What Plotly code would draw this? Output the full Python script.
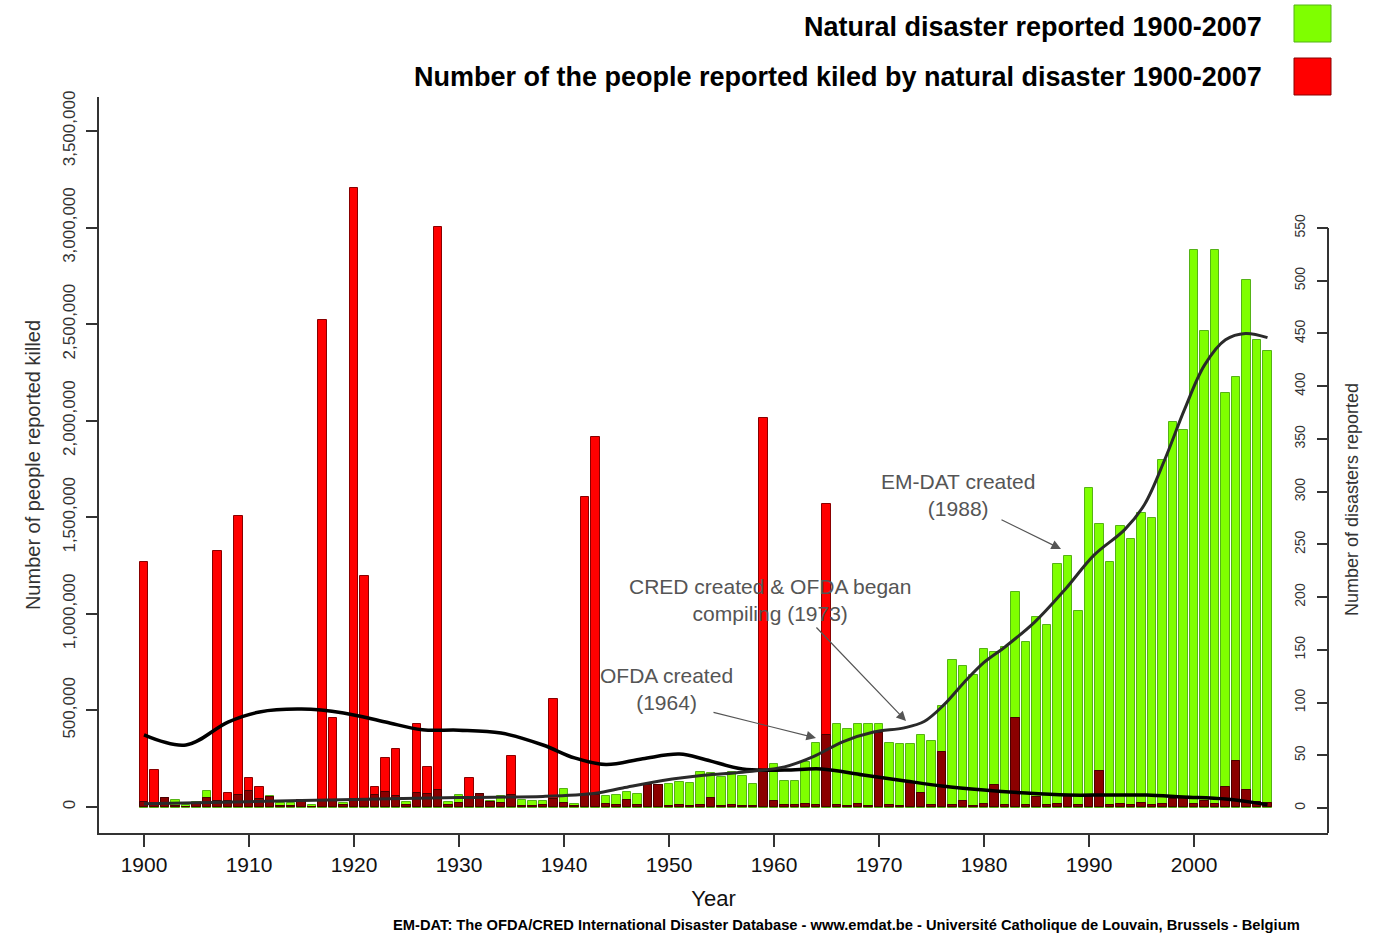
import plotly.graph_objects as go

# ---------------- data ----------------
years = list(range(1900, 2008))

disasters = [
    5, 4, 9, 8, 3, 6, 16, 6, 6, 11,
    15, 8, 11, 5, 5, 8, 3, 6, 6, 5,
    8, 8, 11, 14, 10, 6, 13, 12, 16, 6,
    12, 9, 12, 7, 11, 11, 8, 7, 7, 8,
    18, 4, 11, 11, 11, 12, 15, 13, 22, 22,
    23, 25, 24, 34, 33, 29, 34, 30, 23, 35,
    42, 26, 26, 44, 62, 68, 80, 75, 80, 80,
    80, 62, 61, 61, 69, 64, 97, 140, 135, 126,
    151, 148, 153, 205, 157, 181, 174, 231, 239, 187,
    303, 269, 233, 267, 255, 280, 275, 330, 366, 358,
    529, 452, 529, 394, 409, 501, 444, 433,
]

killed = [
    1267000, 191000, 45000, 5000, 2000, 22000, 45000, 1325000, 72000, 1506000,
    150000, 104000, 50000, 3000, 3000, 35000, 2000, 2520000, 460000, 8000,
    3204000, 1196000, 104000, 254000, 300000, 10000, 430000, 207000, 3002000, 10000,
    20000, 150000, 67000, 25000, 20000, 264000, 5000, 5000, 10000, 559000,
    20000, 5000, 1604000, 1915000, 15000, 10000, 35000, 10000, 112000, 112000,
    5000, 10000, 5000, 8000, 45000, 5000, 8000, 5000, 5000, 2013000,
    32000, 8000, 10000, 15000, 8000, 1568000, 10000, 5000, 15000, 5000,
    385000, 8000, 5000, 130000, 72000, 8000, 285000, 12000, 30000, 5000,
    15000, 112000, 8000, 460000, 10000, 52000, 8000, 15000, 62000, 10000,
    52000, 185000, 10000, 15000, 10000, 20000, 10000, 15000, 40000, 45000,
    15000, 30000, 15000, 106000, 240000, 88000, 25000, 20000,
]

# smoothed trend curves
trend_killed_years = [1900, 1904, 1908, 1911, 1915, 1919, 1923, 1926.5, 1930, 1934,
                      1938, 1941, 1944, 1947.5, 1951, 1953.5, 1957, 1961, 1964.5,
                      1968.5, 1972.5, 1976, 1980, 1984, 1988, 1991.5, 1995.5, 1999,
                      2003, 2007]
trend_killed = [373000, 321000, 440000, 492000, 507000, 487000, 440000, 400000, 398000, 383000,
                321000, 254000, 220000, 250000, 274000, 245000, 197000, 191000, 197000,
                166000, 135000, 109000, 88000, 72000, 62000, 62000, 62000, 52000,
                41000, 12000]

trend_dis_years = [1900, 1910, 1920, 1930, 1938, 1943, 1945.6, 1949.4, 1953.3, 1957,
                   1961, 1963.8, 1966.6, 1969.5, 1972.4, 1974.3, 1976.2, 1978.1, 1980,
                   1981.9, 1984.8, 1987.7, 1990.5, 1993.4, 1995.3, 1997.2, 1999.1,
                   2001, 2003, 2004.9, 2007]
trend_dis = [4, 6, 8, 10, 11, 14, 19, 26, 31, 34,
             39, 49, 63, 72, 76, 82, 98, 119, 138,
             152, 176, 207, 240, 264, 288, 330, 378,
             420, 444, 450, 446]

x_ticks = list(range(1900, 2001, 10))
left_ticks = list(range(0, 3500001, 500000))
right_ticks = list(range(0, 551, 50))

legend_green = "Natural disaster reported 1900-2007"
legend_red = "Number of the people reported kiled by natural disaster 1900-2007"
footer = ("EM-DAT: The OFDA/CRED International Disaster Database - www.emdat.be - "
          "Université Catholique de Louvain, Brussels - Belgium")

# ---------------- layout geometry (pixels) ----------------
W, H = 1379, 933
PL, PR, PT, PB = 99, 1328, 97, 833          # plot area
X0PX, XSTEP = 144, 10.5                      # pixel of 1900, pixels per year
K0PX, K_S = 807, 676 / 3500000               # killed axis: zero pixel, px per person
D0PX, D_S = 808, 580 / 550                   # disasters axis: zero pixel, px per disaster

x_range = [1900 - (X0PX - PL) / XSTEP, 1900 + (PR - X0PX) / XSTEP]
k_range = [-(PB - K0PX) / K_S, (K0PX - PT) / K_S]
d_range = [-(PB - D0PX) / D_S, (D0PX - PT) / D_S]


def xd(px):
    return 1900 + (px - X0PX) / XSTEP


def yd(py):
    return (D0PX - py) / D_S


def xp(px):
    return (px - PL) / (PR - PL)


def yp(py):
    return (PB - py) / (PB - PT)


# part of each red bar hidden behind a green bar (rendered dark red)
overlap = [min(k, d * D_S / K_S) for k, d in zip(killed, disasters)]

REG = "Liberation Sans, Arial, sans-serif"
BAR_W = 0.83

fig = go.Figure()
fig.add_trace(go.Bar(x=years, y=disasters, yaxis="y", width=BAR_W,
                     marker=dict(color="#7FFF00", line=dict(color="#55B316", width=1)),
                     name=legend_green, showlegend=False))
fig.add_trace(go.Bar(x=years, y=killed, yaxis="y2", width=BAR_W,
                     marker=dict(color="#FF0000", line=dict(color="#8A0000", width=1)),
                     name=legend_red, showlegend=False))
fig.add_trace(go.Bar(x=years, y=overlap, yaxis="y2", width=BAR_W,
                     marker=dict(color="#8B0000", line=dict(color="#4A0000", width=1)),
                     name="overlap", showlegend=False, hoverinfo="skip"))
fig.add_trace(go.Scatter(x=trend_killed_years, y=trend_killed, yaxis="y2", mode="lines",
                         line=dict(color="#000000", width=3.5, shape="spline", smoothing=1.0),
                         showlegend=False, name="killed trend"))
fig.add_trace(go.Scatter(x=trend_dis_years, y=trend_dis, yaxis="y3", mode="lines",
                         line=dict(color="#2A2A2A", width=3, shape="spline", smoothing=1.0),
                         showlegend=False, name="disasters trend"))

axis_col = "#333333"

annotations = [
    dict(text=f"<b>{legend_green}</b>", xref="paper", yref="paper", x=xp(1264), y=yp(27),
         xanchor="right", yanchor="middle", showarrow=False,
         font=dict(family=REG, size=27, color="#000")),
    dict(text=f"<b>{legend_red}</b>", xref="paper", yref="paper", x=xp(1264), y=yp(77),
         xanchor="right", yanchor="middle", showarrow=False,
         font=dict(family=REG, size=27, color="#000")),
    dict(text=f"<b>{footer}</b>", xref="paper", yref="paper", x=xp(846), y=yp(925),
         xanchor="center", yanchor="middle", showarrow=False,
         font=dict(family=REG, size=14.7, color="#000")),
    dict(text="Number of disasters reported", xref="paper", yref="paper", x=xp(1352), y=yp(500),
         xanchor="center", yanchor="middle", textangle=-90, showarrow=False,
         font=dict(family=REG, size=18, color="#333")),
]

# (text, pixel centre of the text block, arrow tail, arrow head)
callouts = [
    ("EM-DAT created<br>(1988)", (958, 495), (1000, 519), (1061, 549)),
    ("CRED created &amp; OFDA began<br>compiling (1973)", (770, 600), (815, 626), (906, 721)),
    ("OFDA created<br>(1964)", (666, 689), (712, 712), (816, 738)),
]
for txt, (tx, ty), (ax_, ay_), (hx, hy) in callouts:
    annotations.append(dict(text=txt, x=xd(tx), y=yd(ty), xref="x", yref="y",
                            showarrow=False, xanchor="center", yanchor="middle",
                            align="center",
                            font=dict(family=REG, size=21, color="#555555")))
    annotations.append(dict(text="", x=xd(hx), y=yd(hy), ax=xd(ax_), ay=yd(ay_),
                            xref="x", yref="y", axref="x", ayref="y",
                            showarrow=True, arrowhead=2, arrowsize=1.6, arrowwidth=1.2,
                            arrowcolor="#555555"))

shapes = [
    # right axis line, from the 0 tick to the 550 tick
    dict(type="line", xref="paper", yref="y", x0=1, x1=1, y0=d_range[0], y1=550,
         line=dict(color=axis_col, width=2)),
    # legend swatches
    dict(type="rect", xref="paper", yref="paper", x0=xp(1294), x1=xp(1331), y0=yp(42), y1=yp(5),
         fillcolor="#7FFF00", line=dict(color="#55B316", width=1)),
    dict(type="rect", xref="paper", yref="paper", x0=xp(1294), x1=xp(1331), y0=yp(95), y1=yp(58),
         fillcolor="#FF0000", line=dict(color="#8A0000", width=1)),
]

fig.update_layout(
    width=W, height=H,
    margin=dict(l=PL, r=W - PR, t=PT, b=H - PB, pad=0),
    paper_bgcolor="white", plot_bgcolor="white",
    barmode="overlay", bargap=0,
    showlegend=False,
    xaxis=dict(range=x_range, tickvals=x_ticks, ticks="outside", ticklen=12, tickwidth=1.5,
               tickcolor=axis_col, showline=True, linecolor=axis_col, linewidth=2,
               showgrid=False, zeroline=False, tickfont=dict(family=REG, size=21, color="#111"),
               title=dict(text="Year", font=dict(family=REG, size=22, color="#111"), standoff=15)),
    yaxis=dict(range=d_range, side="right", tickvals=right_ticks, ticks="inside", ticklen=11,
               tickwidth=1.5, tickcolor=axis_col, ticklabelposition="inside", tickangle=-90,
               tickfont=dict(family=REG, size=14, color="#333"), ticklabelstandoff=9,
               showline=False, showgrid=False, zeroline=False),
    yaxis2=dict(range=k_range, overlaying="y", side="left", tickvals=left_ticks,
                tickformat=",d", ticks="outside", ticklen=11, tickwidth=1.5, tickcolor=axis_col,
                tickangle=-90, tickfont=dict(family=REG, size=17, color="#333"),
                ticklabelstandoff=4,
                showline=True, linecolor=axis_col, linewidth=2, showgrid=False, zeroline=False,
                title=dict(text="Number of people reported killed",
                           font=dict(family=REG, size=20, color="#333"), standoff=14)),
    yaxis3=dict(range=d_range, overlaying="y", visible=False, showgrid=False, zeroline=False),
    annotations=annotations,
    shapes=shapes,
)

fig.write_html("out.html", config={"displayModeBar": False},
               post_script="document.body.style.margin='0px';")
